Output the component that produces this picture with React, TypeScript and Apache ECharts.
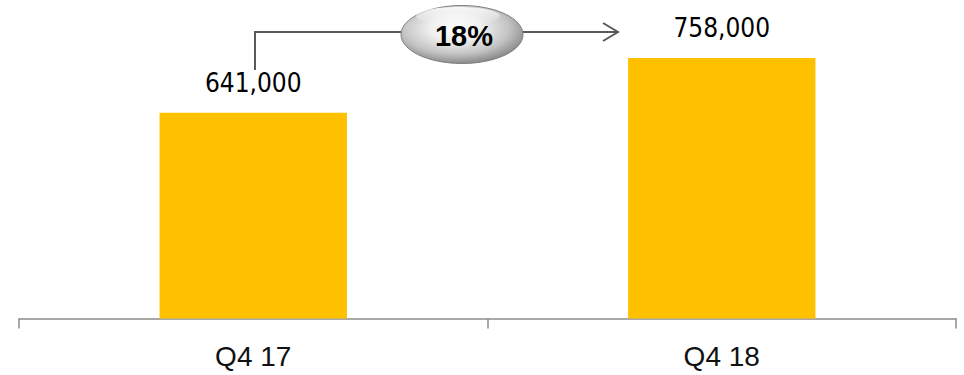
import React, { useEffect, useRef } from "react";
import * as echarts from "echarts";

const categories = ["Q4 17", "Q4 18"];
const values = [641000, 758000];
const axisMin = 200000;
const axisMax = 800000;

const growthPct = Math.round((values[1] / values[0] - 1) * 100);

export default function App() {
  const ref = useRef<HTMLDivElement>(null);

  useEffect(() => {
    if (!ref.current) return;
    const chart = echarts.init(ref.current, null, { renderer: "svg" });

    const lineColor = "#5a5a5a";

    chart.setOption({
      animation: false,
      backgroundColor: "#ffffff",
      grid: { left: 19, right: 8, top: 38.5, bottom: 56.5 },
      xAxis: {
        type: "category",
        data: categories,
        boundaryGap: true,
        axisLine: { lineStyle: { color: "#8c8c8c", width: 1.5 } },
        axisTick: { show: true, length: 10, lineStyle: { color: "#8c8c8c", width: 1.5 } },
        axisLabel: {
          margin: 24,
          fontSize: 28,
          fontFamily: '"Liberation Sans", Arial, sans-serif',
          color: "#111111",
        },
      },
      yAxis: {
        type: "value",
        min: axisMin,
        max: axisMax,
        show: false,
        splitLine: { show: false },
      },
      series: [
        {
          type: "bar",
          data: values,
          barWidth: "40%",
          itemStyle: { color: "#FFC000" },
          label: {
            show: true,
            position: "top",
            distance: 17,
            fontSize: 26,
            fontFamily: '"DejaVu Sans Condensed", "DejaVu Sans", sans-serif',
            color: "#000000",
            formatter: (p: any) => Number(p.value).toLocaleString("en-US"),
          },
        },
      ],
      graphic: [
        {
          type: "polyline",
          z: 10,
          shape: { points: [[255, 70], [255, 32], [618, 32]] },
          style: { stroke: lineColor, lineWidth: 2, fill: null },
        },
        {
          type: "polyline",
          z: 10,
          shape: { points: [[603, 23], [618, 32], [603, 41]] },
          style: { stroke: lineColor, lineWidth: 2, fill: null },
        },
        {
          type: "ellipse",
          z: 20,
          shape: { cx: 462, cy: 34.5, rx: 61, ry: 29 },
          style: {
            fill: new echarts.graphic.RadialGradient(0.45, 0.4, 0.62, [
              { offset: 0, color: "#ffffff" },
              { offset: 0.35, color: "#eeeeee" },
              { offset: 0.7, color: "#c4c4c4" },
              { offset: 1, color: "#858585" },
            ]),
            stroke: "#808080",
            lineWidth: 1,
          },
        },
        {
          type: "ellipse",
          z: 21,
          shape: { cx: 458, cy: 16, rx: 42, ry: 9 },
          style: {
            fill: new echarts.graphic.LinearGradient(0, 0, 0, 1, [
              { offset: 0, color: "rgba(255,255,255,0.85)" },
              { offset: 1, color: "rgba(255,255,255,0)" },
            ]),
          },
        },
        {
          type: "text",
          z: 30,
          x: 464,
          y: 36,
          style: {
            text: growthPct + "%",
            fontSize: 29,
            fontWeight: "bold",
            fontFamily: '"Liberation Sans", Arial, sans-serif',
            fill: "#000000",
            align: "center",
            verticalAlign: "middle",
          },
        },
      ],
    });

    return () => chart.dispose();
  }, []);

  return (
    <div
      ref={ref}
      style={{ position: "fixed", left: 0, top: 0, width: 964, height: 375, background: "#fff" }}
    />
  );
}
